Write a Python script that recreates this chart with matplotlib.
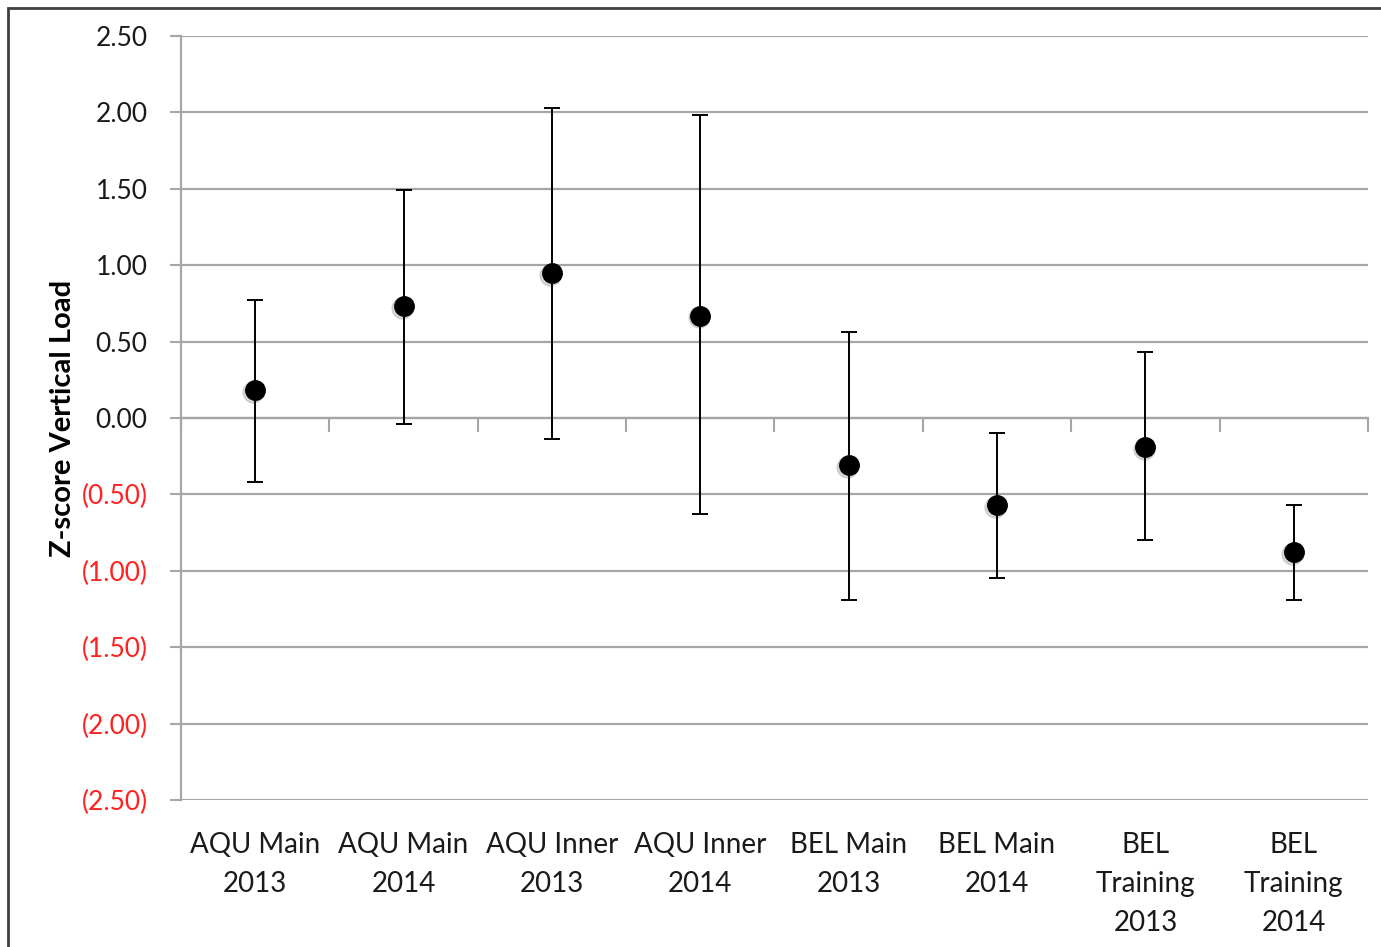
import numpy as np
import matplotlib.pyplot as plt
from matplotlib.patches import Rectangle
from matplotlib.ticker import FixedLocator, FuncFormatter

plt.rcParams['font.family'] = ['Lato', 'DejaVu Sans']

# --- DATA ---
categories = ['AQU Main\n2013', 'AQU Main\n2014', 'AQU Inner\n2013', 'AQU Inner\n2014',
              'BEL Main\n2013', 'BEL Main\n2014', 'BEL\nTraining\n2013', 'BEL\nTraining\n2014']
means = [0.18, 0.73, 0.95, 0.67, -0.31, -0.57, -0.19, -0.88]
upper = [0.77, 1.49, 2.03, 1.98, 0.56, -0.10, 0.43, -0.57]
lower = [-0.42, -0.04, -0.14, -0.63, -1.19, -1.05, -0.80, -1.19]
yticks = [2.5, 2.0, 1.5, 1.0, 0.5, 0.0, -0.5, -1.0, -1.5, -2.0, -2.5]

grid_col = '#a6a6a6'

fig = plt.figure(figsize=(13.81, 9.47), dpi=100)
ax = fig.add_axes([181 / 1381, 1 - 800 / 947, (1368 - 181) / 1381, (800 - 36) / 947])

x = np.arange(1, len(categories) + 1)
m = np.array(means)
yerr = np.vstack([m - np.array(lower), np.array(upper) - m])

# soft shadow under the markers
ax.plot(x - 0.012, m - 0.012, 'o', ms=15, color='#bbbbbb', alpha=0.6, zorder=3)
ax.errorbar(x, m, yerr=yerr, fmt='o', ms=14, color='black', ecolor='black',
            elinewidth=1.4, capsize=6, capthick=1.4, zorder=4)

ax.set_xlim(0.5, len(categories) + 0.5)
ax.set_ylim(-2.5, 2.5)

# y axis
ax.yaxis.set_major_locator(FixedLocator(yticks))
ax.yaxis.set_major_formatter(FuncFormatter(
    lambda v, p: f'{v:.2f}' if v >= 0 else f'({abs(v):.2f})'))
ax.tick_params(axis='y', length=8, width=1.5, color=grid_col, labelsize=19, pad=16)
for lab in ax.get_yticklabels():
    if lab.get_text().startswith('('):
        lab.set_color('#ff2020')
    else:
        lab.set_color('#1a1a1a')
ax.grid(axis='y', color=grid_col, linewidth=1.6)
ax.set_axisbelow(True)
ax.set_ylabel('Z-score Vertical Load', fontsize=21, fontweight='bold', labelpad=4)

# category labels at the bottom
ax.set_xticks(x)
ax.set_xticklabels(categories, fontsize=20, color='#1a1a1a', linespacing=1.62, va='top')
ax.tick_params(axis='x', length=0, pad=23)

for s in ['top', 'right', 'bottom']:
    ax.spines[s].set_visible(False)
ax.spines['left'].set_color(grid_col)
ax.spines['left'].set_linewidth(1.6)

# horizontal axis at zero with category boundary ticks
sec = ax.secondary_xaxis(0.5)
sec.set_xticks(np.arange(0.5, len(categories) + 1, 1.0))
sec.set_xticklabels([])
sec.tick_params(length=10, width=1.5, color=grid_col, direction='in')
for s in sec.spines.values():
    s.set_color(grid_col)
    s.set_linewidth(1.6)

# outer frame
fig.patches.append(Rectangle((8 / 1381, -0.1), 1.2, 1 - 8 / 947 + 0.1,
                             transform=fig.transFigure, fill=False,
                             edgecolor='#404040', linewidth=2))

fig.savefig('out.png', dpi=100)
